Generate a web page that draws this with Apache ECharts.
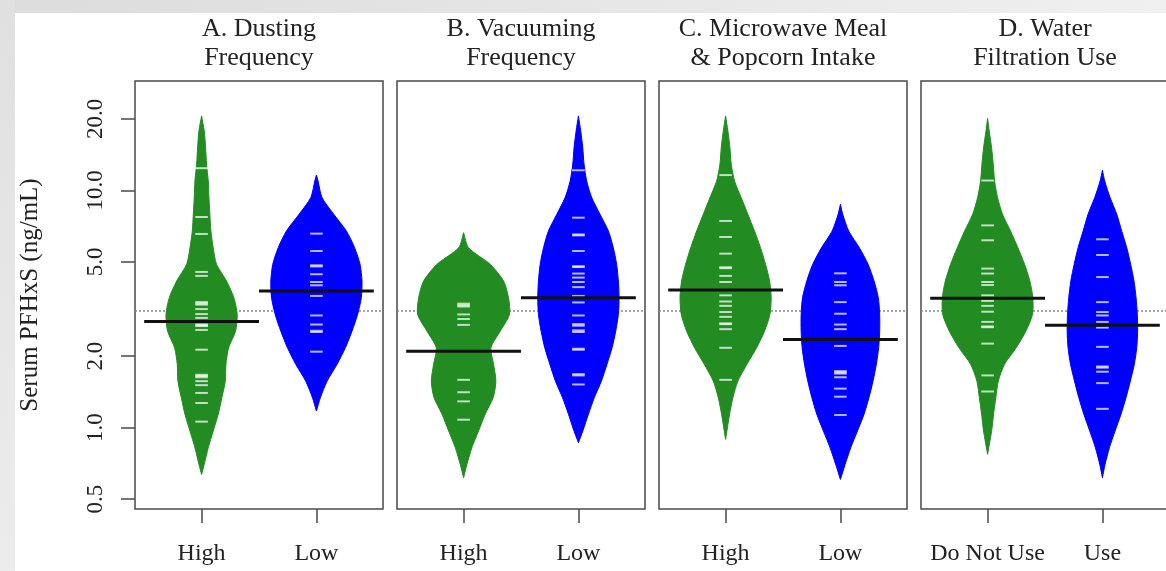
<!DOCTYPE html>
<html>
<head>
<meta charset="utf-8">
<title>Serum PFHxS beanplots</title>
<script src="https://cdn.jsdelivr.net/npm/echarts@6.0.0/dist/echarts.min.js"></script>
<style>
  html, body { margin: 0; padding: 0; background: #fff; }
  #chart { width: 1166px; height: 571px; }
</style>
</head>
<body>
<div id="chart"></div>
<script>
// ---- data (ng/mL) ----
const panelTitles = ['A. Dusting\nFrequency', 'B. Vacuuming\nFrequency', 'C. Microwave Meal\n& Popcorn Intake', 'D. Water\nFiltration Use'];
const groupLabels = [['High', 'Low'], ['High', 'Low'], ['High', 'Low'], ['Do Not Use', 'Use']];
const yTicks = [0.5, 1.0, 2.0, 5.0, 10.0, 20.0];
const yRange = [0.454, 28.9];
const overallMean = 3.1;
const beanMeans = [[2.80, 3.77], [2.10, 3.53], [3.80, 2.35], [3.51, 2.70]];

// individual observations (white bean lines)
const dustHigh = [12.4, 7.72, 6.55, 4.53, 4.36, 3.38, 3.34, 3.30, 3.16, 3.01, 2.90, 2.72, 2.70, 2.68, 2.58, 2.13, 1.67, 1.65, 1.63, 1.57, 1.51, 1.40, 1.27, 1.06];
const dustLow = [6.57, 5.55, 4.83, 4.78, 4.43, 4.11, 3.98, 3.59, 2.97, 2.72, 2.56, 2.53, 2.09];
const vacHigh = [3.33, 3.28, 3.24, 3.00, 2.87, 2.71, 1.59, 1.41, 1.29, 1.08];
const vacLow = [12.15, 7.67, 6.52, 6.46, 5.55, 4.79, 4.75, 4.46, 4.29, 4.11, 3.91, 3.59, 3.37, 2.97, 2.73, 2.69, 2.57, 2.53, 2.15, 2.13, 1.68, 1.66, 1.52];
const microHigh = [11.6, 7.43, 6.36, 5.41, 4.74, 4.70, 4.36, 4.11, 3.61, 3.40, 3.26, 3.07, 2.93, 2.75, 2.73, 2.60, 2.17, 1.59];
const microLow = [4.47, 4.11, 3.98, 3.38, 3.02, 2.72, 2.60, 2.21, 1.73, 1.71, 1.69, 1.63, 1.46, 1.35, 1.13];
const waterNoUse = [11.0, 7.12, 6.16, 4.68, 4.46, 4.11, 3.99, 3.61, 3.51, 3.42, 3.26, 3.08, 2.79, 2.67, 2.65, 2.26, 1.66, 1.42];
const waterUse = [6.22, 5.34, 4.31, 3.38, 3.07, 2.97, 2.79, 2.64, 2.19, 1.81, 1.79, 1.72, 1.54, 1.20];

// bean outlines: [value ng/mL, half width in x units]
const dustHighShape = [[20.6, 0], [17.8, .023], [15.1, .035], [12.9, .043], [10.95, .058], [9.32, .064], [7.93, .072], [6.74, .081], [5.73, .101], [4.88, .13], [4.15, .217], [3.53, .281], [3.00, .31], [2.55, .296], [2.17, .235], [1.85, .212], [1.57, .206], [1.34, .177], [1.14, .145], [0.967, .101], [0.823, .058], [0.70, .023], [0.635, 0]];
const dustLowShape = [[11.6, 0], [10.95, .014], [9.32, .049], [7.93, .151], [6.74, .261], [5.73, .333], [4.88, .38], [4.15, .397], [3.53, .391], [3.00, .359], [2.55, .31], [2.17, .252], [1.85, .18], [1.57, .093], [1.34, .035], [1.175, 0]];
const vacHighShape = [[6.63, 0], [5.73, .043], [4.88, .232], [4.15, .348], [3.53, .391], [3.00, .4], [2.55, .319], [2.17, .238], [1.85, .261], [1.57, .281], [1.34, .258], [1.14, .188], [0.967, .13], [0.823, .072], [0.70, .029], [0.615, 0]];
const vacLowShape = [[20.6, 0], [17.8, .02], [15.1, .038], [12.9, .049], [10.95, .072], [9.32, .116], [7.93, .188], [6.74, .261], [5.73, .304], [4.88, .333], [4.15, .348], [3.53, .354], [3.00, .348], [2.55, .325], [2.17, .293], [1.85, .249], [1.57, .2], [1.34, .139], [1.14, .087], [0.967, .038], [0.864, 0]];
const microHighShape = [[20.6, 0], [17.8, .02], [15.1, .038], [12.9, .049], [10.95, .078], [9.32, .136], [7.93, .194], [6.74, .252], [5.73, .304], [4.88, .348], [4.15, .383], [3.53, .397], [3.00, .386], [2.55, .339], [2.17, .27], [1.85, .186], [1.57, .107], [1.34, .064], [1.14, .035], [0.892, 0]];
const microLowShape = [[8.73, 0], [7.93, .02], [6.74, .072], [5.73, .165], [4.88, .241], [4.15, .293], [3.53, .33], [3.00, .342], [2.55, .342], [2.17, .333], [1.85, .313], [1.57, .284], [1.34, .249], [1.14, .206], [0.967, .148], [0.823, .09], [0.70, .041], [0.605, 0]];
const waterNoUseShape = [[20.1, 0], [17.8, .014], [15.1, .035], [12.9, .049], [10.95, .061], [9.32, .087], [7.93, .13], [6.74, .2], [5.73, .264], [4.88, .322], [4.15, .368], [3.53, .394], [3.00, .391], [2.55, .333], [2.17, .249], [1.85, .148], [1.57, .093], [1.34, .072], [1.14, .052], [0.967, .035], [0.772, 0]];
const waterUseShape = [[12.15, 0], [10.95, .02], [9.32, .067], [7.93, .125], [6.74, .168], [5.73, .212], [4.88, .246], [4.15, .275], [3.53, .293], [3.00, .304], [2.55, .307], [2.17, .299], [1.85, .278], [1.57, .243], [1.34, .206], [1.14, .162], [0.967, .11], [0.823, .061], [0.70, .023], [0.615, 0]];

const beanObs = [[dustHigh, dustLow], [vacHigh, vacLow], [microHigh, microLow], [waterNoUse, waterUse]];
const beanShapes = [[dustHighShape, dustLowShape], [vacHighShape, vacLowShape], [microHighShape, microLowShape], [waterNoUseShape, waterUseShape]];

// ---- layout / style ----
const FONT = '"Liberation Serif", "Times New Roman", serif';
const TEXT = '#222';
const FRAME = '#4a4a4a';
const beanColors = ['#228b22', '#0000ff'];
const panelLefts = [135, 397, 659, 921];
const panelWidth = 248;
const plotTop = 81;
const plotHeight = 428;
const xRange = [0.42, 2.58];

const chart = echarts.init(document.getElementById('chart'));
const lg = Math.log10;

const grids = [], xAxes = [], yAxes = [], series = [], graphics = [];

// slide-like grey edges
graphics.push({
  type: 'rect', z: -10, shape: { x: 0, y: 0, width: 1166, height: 13 },
  style: { fill: new echarts.graphic.LinearGradient(0, 0, 1, 0, [{ offset: 0, color: '#dcdcdc' }, { offset: 1, color: '#f0f0f0' }]) }
});
graphics.push({
  type: 'rect', z: -10, shape: { x: 0, y: 0, width: 15, height: 571 },
  style: { fill: new echarts.graphic.LinearGradient(0, 0, 0, 1, [{ offset: 0, color: '#e0e0e0' }, { offset: 1, color: '#ececec' }]) }
});

panelTitles.forEach((title, p) => {
  grids.push({
    left: panelLefts[p], top: plotTop, width: panelWidth, height: plotHeight,
    show: true, borderColor: FRAME, borderWidth: 1.5, backgroundColor: '#fff',
    outerBoundsMode: 'none', containLabel: false
  });

  xAxes.push({
    gridIndex: p, type: 'value', min: xRange[0], max: xRange[1], position: 'bottom',
    axisLine: { show: false, onZero: false }, splitLine: { show: false },
    axisTick: { show: true, customValues: [1, 2], length: 14, lineStyle: { color: FRAME, width: 1.5 } },
    axisLabel: {
      customValues: [1, 2], margin: 33, fontSize: 24, fontFamily: FONT, color: TEXT,
      formatter: v => groupLabels[p][Math.round(v) - 1]
    }
  });

  const first = p === 0;
  yAxes.push({
    gridIndex: p, type: 'value', min: lg(yRange[0]), max: lg(yRange[1]), position: 'left',
    axisLine: { show: false, onZero: false }, splitLine: { show: false },
    axisTick: { show: first, customValues: yTicks.map(lg), length: 14, lineStyle: { color: FRAME, width: 1.5 } },
    axisLabel: {
      show: first, customValues: yTicks.map(lg), rotate: 90, margin: 28,
      fontSize: 23, fontFamily: FONT, color: TEXT,
      formatter: v => Math.pow(10, v).toFixed(1)
    },
    name: first ? 'Serum PFHxS (ng/mL)' : '',
    nameLocation: 'middle', nameRotate: 90, nameGap: 92,
    nameTextStyle: { fontSize: 25, fontFamily: FONT, color: TEXT }
  });

  graphics.push({
    type: 'text', x: panelLefts[p] + panelWidth / 2, y: 15, z: 10,
    style: {
      text: title, fontSize: 26, fontFamily: FONT, fill: TEXT, lineHeight: 29,
      align: 'center', textAlign: 'center', verticalAlign: 'top', textVerticalAlign: 'top'
    }
  });

  // overall (dotted) reference line
  series.push({
    type: 'custom', xAxisIndex: p, yAxisIndex: p, silent: true, z: 1,
    data: [[xRange[0], lg(overallMean)]],
    renderItem: (params, api) => {
      const a = api.coord([xRange[0], api.value(1)]);
      const b = api.coord([xRange[1], api.value(1)]);
      return {
        type: 'line', shape: { x1: a[0], y1: a[1], x2: b[0], y2: b[1] },
        style: { stroke: '#888', lineWidth: 1.5, lineDash: [2, 2] }
      };
    }
  });

  [0, 1].forEach(k => {
    const cx = k + 1;
    const shape = beanShapes[p][k];
    const color = beanColors[k];

    // bean outline
    series.push({
      type: 'custom', xAxisIndex: p, yAxisIndex: p, silent: true, z: 2,
      data: [[cx, lg(shape[0][0])]],
      renderItem: (params, api) => {
        const right = shape.map(([v, w]) => api.coord([cx + w, lg(v)]));
        const left = shape.slice().reverse().map(([v, w]) => api.coord([cx - w, lg(v)]));
        return {
          type: 'polygon',
          shape: { points: right.concat(left), smooth: 0.25 },
          style: { fill: color, stroke: color, lineWidth: 1 }
        };
      }
    });

    // individual observations
    series.push({
      type: 'custom', xAxisIndex: p, yAxisIndex: p, silent: true, z: 3,
      data: beanObs[p][k].map(v => [cx, lg(v)]),
      renderItem: (params, api) => {
        const a = api.coord([cx - 0.055, api.value(1)]);
        const b = api.coord([cx + 0.055, api.value(1)]);
        return {
          type: 'line', shape: { x1: a[0], y1: a[1], x2: b[0], y2: b[1] },
          style: { stroke: 'rgba(255,255,255,0.72)', lineWidth: 2 }
        };
      }
    });

    // bean average
    series.push({
      type: 'custom', xAxisIndex: p, yAxisIndex: p, silent: true, z: 4,
      data: [[cx, lg(beanMeans[p][k])]],
      renderItem: (params, api) => {
        const a = api.coord([cx - 0.5, api.value(1)]);
        const b = api.coord([cx + 0.5, api.value(1)]);
        return {
          type: 'line', shape: { x1: a[0], y1: a[1], x2: b[0], y2: b[1] },
          style: { stroke: '#111', lineWidth: 3 }
        };
      }
    });
  });
});

chart.setOption({
  backgroundColor: '#fff',
  animation: false,
  grid: grids,
  xAxis: xAxes,
  yAxis: yAxes,
  graphic: graphics,
  series: series
});

window.addEventListener('resize', () => chart.resize());
</script>
</body>
</html>
